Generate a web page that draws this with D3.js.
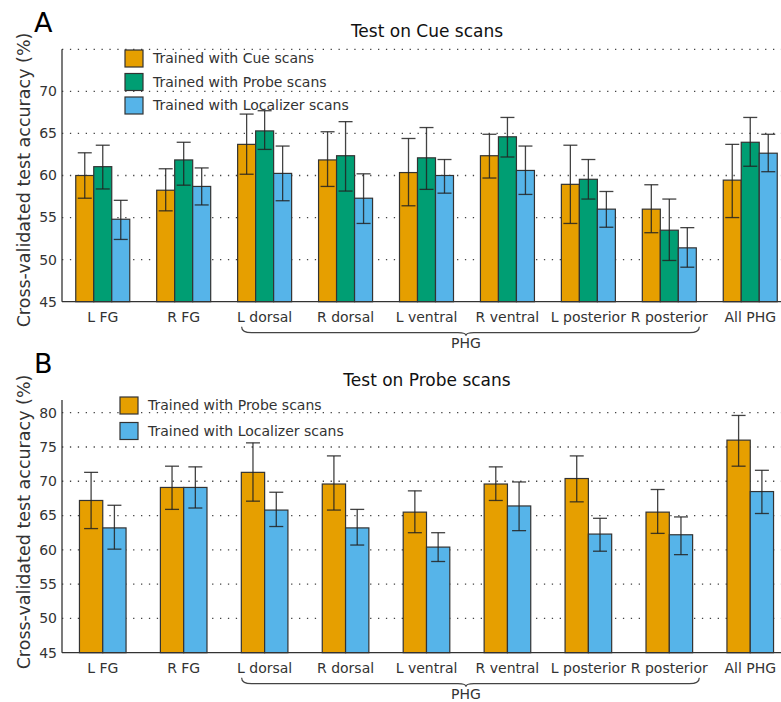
<!DOCTYPE html>
<html lang="en">
<head>
    <meta charset="UTF-8"/>
    <title>Cross-validated test accuracy</title>
    <script src="https://d3js.org/d3.v7.min.js"></script>
    <style>
        body, html {
            margin: 0;
            padding: 0;
            background: #fff;
            font-family: "DejaVu Sans", Verdana, sans-serif;
            overflow: hidden;
        }
        svg { display: block; }
        .tick-label { fill: #333; font-size: 14px; }
    </style>
</head>
<body>
<svg id="chart" width="781" height="702"></svg>
<script>
    // regions on the x axis
    const regions = ["L FG", "R FG", "L dorsal", "R dorsal", "L ventral", "R ventral", "L posterior", "R posterior", "All PHG"];

    // Panel A: test on Cue scans
    const cueSeries = ["Trained with Cue scans", "Trained with Probe scans", "Trained with Localizer scans"];
    const cueTrainCue = [60.0, 58.25, 63.7, 61.85, 60.35, 62.35, 58.95, 56.0, 59.45];
    const cueTrainCueLo = [57.3, 55.8, 60.15, 58.7, 56.4, 59.7, 54.3, 53.2, 55.0];
    const cueTrainCueHi = [62.7, 60.8, 67.3, 65.2, 64.4, 64.9, 63.6, 58.9, 63.7];
    const cueTrainProbe = [61.05, 61.85, 65.3, 62.35, 62.1, 64.6, 59.55, 53.5, 63.95];
    const cueTrainProbeLo = [58.4, 58.85, 63.1, 58.15, 58.35, 62.2, 57.2, 49.9, 61.1];
    const cueTrainProbeHi = [63.6, 63.95, 67.7, 66.4, 65.7, 66.9, 61.9, 57.2, 66.9];
    const cueTrainLoc = [54.8, 58.7, 60.25, 57.3, 60.0, 60.6, 56.0, 51.4, 62.65];
    const cueTrainLocLo = [52.4, 56.5, 57.0, 54.3, 57.9, 57.75, 53.85, 49.1, 60.45];
    const cueTrainLocHi = [57.05, 60.9, 63.5, 60.2, 61.9, 63.5, 58.1, 53.8, 64.9];
    const cueTicks = [45, 50, 55, 60, 65, 70];
    const cueGrid = [50, 55, 60, 65, 70, 75];

    // Panel B: test on Probe scans
    const probeSeries = ["Trained with Probe scans", "Trained with Localizer scans"];
    const probeTrainProbe = [67.2, 69.1, 71.3, 69.6, 65.5, 69.6, 70.4, 65.5, 76.0];
    const probeTrainProbeLo = [63.1, 65.9, 67.1, 65.8, 62.5, 67.2, 67.0, 62.4, 72.2];
    const probeTrainProbeHi = [71.3, 72.2, 75.6, 73.7, 68.6, 72.1, 73.7, 68.8, 79.6];
    const probeTrainLoc = [63.2, 69.1, 65.8, 63.2, 60.4, 66.4, 62.3, 62.2, 68.5];
    const probeTrainLocLo = [60.1, 66.1, 63.4, 60.7, 58.3, 62.8, 59.8, 59.3, 65.3];
    const probeTrainLocHi = [66.5, 72.1, 68.4, 65.9, 62.5, 69.9, 64.6, 64.8, 71.6];
    const probeTicks = [45, 50, 55, 60, 65, 70, 75, 80];
    const probeGrid = [50, 55, 60, 65, 70, 75, 80];

    const colors = ["#E69F00", "#009E73", "#56B4E9"];

    const svg = d3.select("#chart");
    const left = 62;

    const x = d3.scaleBand()
        .domain(regions)
        .range([left, 791])
        .paddingInner(0.333)
        .paddingOuter(0.17);

    function panel(opts) {
        const g = svg.append("g");
        const y = d3.scaleLinear().domain(opts.domain).range([opts.bottom, opts.top]);

        // dotted grid lines
        g.selectAll(".grid")
            .data(opts.grid)
            .enter().append("line")
            .attr("x1", left).attr("x2", 781)
            .attr("y1", d => y(d)).attr("y2", d => y(d))
            .attr("stroke", "#444")
            .attr("stroke-width", 1.3)
            .attr("stroke-dasharray", "1.3,6.6");

        // tick labels
        g.selectAll(".ylab")
            .data(opts.ticks)
            .enter().append("text")
            .attr("class", "tick-label")
            .attr("x", left - 5)
            .attr("y", d => y(d))
            .attr("dy", "0.35em")
            .attr("text-anchor", "end")
            .text(d => d);

        // bars
        const nS = opts.series.length;
        const groupW = opts.groupW;
        const xs = d3.scaleBand()
            .domain(d3.range(nS))
            .range([(x.bandwidth() - groupW) / 2, (x.bandwidth() + groupW) / 2]);

        opts.series.forEach((s, si) => {
            const sg = g.append("g");
            const data = regions.map((r, i) => ({r, v: s.values[i], lo: s.lo[i], hi: s.hi[i]}));
            sg.selectAll("rect")
                .data(data)
                .enter().append("rect")
                .attr("x", d => x(d.r) + xs(si))
                .attr("y", d => y(d.v))
                .attr("width", xs.bandwidth())
                .attr("height", d => y(opts.domain[0]) - y(d.v))
                .attr("fill", s.color)
                .attr("stroke", "#333")
                .attr("stroke-width", 1.2);
        });

        // error bars on top of the bars
        opts.series.forEach((s, si) => {
            const eg = g.append("g")
                .attr("stroke", "#222")
                .attr("stroke-opacity", 0.85)
                .attr("stroke-width", 1.3);
            regions.forEach((r, i) => {
                const cx = x(r) + xs(si) + xs.bandwidth() / 2;
                eg.append("line").attr("x1", cx).attr("x2", cx)
                    .attr("y1", y(s.lo[i])).attr("y2", y(s.hi[i]));
                eg.append("line").attr("x1", cx - 7).attr("x2", cx + 7)
                    .attr("y1", y(s.lo[i])).attr("y2", y(s.lo[i]));
                eg.append("line").attr("x1", cx - 7).attr("x2", cx + 7)
                    .attr("y1", y(s.hi[i])).attr("y2", y(s.hi[i]));
            });
        });

        // axis lines
        g.append("line")
            .attr("x1", left).attr("x2", left)
            .attr("y1", opts.axisTop).attr("y2", opts.bottom)
            .attr("stroke", "#333").attr("stroke-width", 1.3);
        g.append("line")
            .attr("x1", left).attr("x2", 781)
            .attr("y1", opts.bottom).attr("y2", opts.bottom)
            .attr("stroke", "#333").attr("stroke-width", 1.3);

        // x labels
        g.selectAll(".xlab")
            .data(regions)
            .enter().append("text")
            .attr("class", "tick-label")
            .attr("x", d => x(d) + x.bandwidth() / 2)
            .attr("y", opts.bottom + 20)
            .attr("text-anchor", "middle")
            .text(d => d);

        // brace under the PHG regions
        const bx1 = x("L dorsal") + 4;
        const bx2 = x("R posterior") + x.bandwidth() + 3;
        const bm = (x("L dorsal") + x("R posterior") + x.bandwidth()) / 2 - 1;
        const by = opts.bottom + 25;
        const bracePath = `M${bx1},${by} Q${bx1},${by + 6} ${bx1 + 10},${by + 6}
            L${bm - 8},${by + 6} Q${bm},${by + 6} ${bm},${by + 9}
            Q${bm},${by + 6} ${bm + 8},${by + 6}
            L${bx2 - 10},${by + 6} Q${bx2},${by + 6} ${bx2},${by}`;
        g.append("path")
            .attr("d", bracePath)
            .attr("fill", "none")
            .attr("stroke", "#444")
            .attr("stroke-width", 1.2);
        g.append("text")
            .attr("class", "tick-label")
            .attr("x", bm)
            .attr("y", by + 21)
            .attr("text-anchor", "middle")
            .text("PHG");

        // title + panel letter
        g.append("text")
            .attr("x", 427).attr("y", opts.titleY)
            .attr("text-anchor", "middle")
            .attr("font-size", 17)
            .attr("fill", "#111")
            .text(opts.title);
        g.append("text")
            .attr("x", 34).attr("y", opts.letterY)
            .attr("font-size", 27)
            .attr("fill", "#000")
            .text(opts.letter);

        // y axis title
        g.append("text")
            .attr("transform", `translate(30,${opts.labelY}) rotate(-90)`)
            .attr("text-anchor", "middle")
            .attr("font-size", 17.5)
            .attr("fill", "#333")
            .text("Cross-validated test accuracy (%)");

        // legend
        opts.series.forEach((s, si) => {
            const ly = opts.legendY + si * opts.legendStep;
            g.append("rect")
                .attr("x", opts.legendX).attr("y", ly)
                .attr("width", 18).attr("height", 17)
                .attr("fill", s.color)
                .attr("stroke", "#333").attr("stroke-width", 1.2);
            g.append("text")
                .attr("x", opts.legendX + 28).attr("y", ly + 8.5)
                .attr("dy", "0.35em")
                .attr("font-size", 14)
                .attr("fill", "#333")
                .text(s.name);
        });
    }

    panel({
        letter: "A", letterY: 32,
        title: "Test on Cue scans", titleY: 37,
        domain: [45, 75], top: 49.3, bottom: 301.7, axisTop: 49.3,
        ticks: cueTicks, grid: cueGrid,
        labelY: 180,
        groupW: 54,
        legendX: 125, legendY: 50, legendStep: 23.5,
        series: [
            {name: cueSeries[0], color: colors[0], values: cueTrainCue, lo: cueTrainCueLo, hi: cueTrainCueHi},
            {name: cueSeries[1], color: colors[1], values: cueTrainProbe, lo: cueTrainProbeLo, hi: cueTrainProbeHi},
            {name: cueSeries[2], color: colors[2], values: cueTrainLoc, lo: cueTrainLocLo, hi: cueTrainLocHi}
        ]
    });

    panel({
        letter: "B", letterY: 373,
        title: "Test on Probe scans", titleY: 386,
        domain: [45, 80], top: 412.7, bottom: 652.7, axisTop: 400,
        ticks: probeTicks, grid: probeGrid,
        labelY: 522,
        groupW: 46.6,
        legendX: 120, legendY: 397, legendStep: 25.5,
        series: [
            {name: probeSeries[0], color: colors[0], values: probeTrainProbe, lo: probeTrainProbeLo, hi: probeTrainProbeHi},
            {name: probeSeries[1], color: colors[2], values: probeTrainLoc, lo: probeTrainLocLo, hi: probeTrainLocHi}
        ]
    });
</script>
</body>
</html>
